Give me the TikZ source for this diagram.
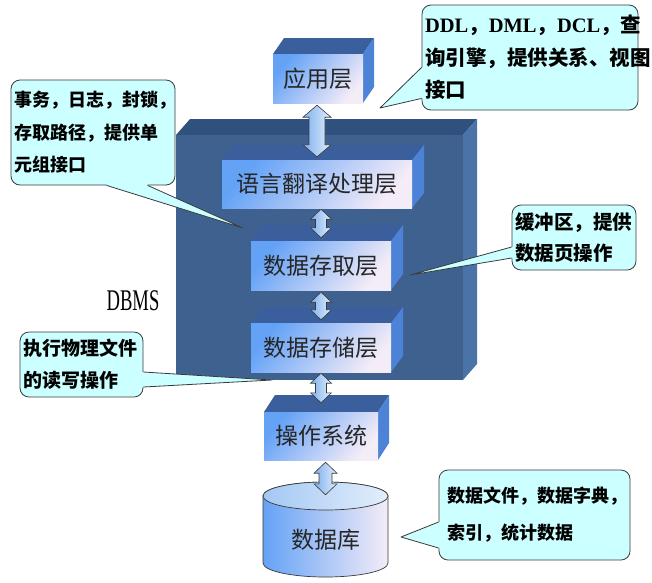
\documentclass[tikz,border=0pt]{standalone}
\usepackage{fontspec}
\usepackage{graphicx}
\setmainfont{Noto Sans CJK SC}
\newfontfamily\latf{Liberation Serif}
\usetikzlibrary{calc}
\definecolor{cfill}{HTML}{CCFFFF}
\definecolor{bigfront}{HTML}{3F6190}
\definecolor{bigtop}{HTML}{30507E}
\definecolor{bigside}{HTML}{4A73A8}
\definecolor{fA}{HTML}{64A2F6}
\definecolor{fB}{HTML}{F4ECF7}
\definecolor{smtop}{HTML}{3B5F9C}
\definecolor{smside}{HTML}{4C83D6}
\definecolor{arA}{HTML}{7DB0EE}
\definecolor{arB}{HTML}{E2EEFB}
\definecolor{ol}{HTML}{3A3A3A}
\tikzset{
  frontface/.style={shade, top color=fA, bottom color=fB, shading angle=50, inner sep=0pt,
    font=\fontsize{23}{23}\selectfont, text=black!85},
  fatarr/.style={draw=ol, line width=0.6pt, left color=arA, right color=arB},
  callout/.style={draw=ol, line width=0.8pt, fill=cfill, rounded corners=9pt, align=left,
    inner xsep=3pt, inner ysep=0pt, text=black},
  cline/.style={draw=ol, line width=0.8pt, line join=round},
}
\newcommand\layerbox[8]{%
  \fill[smtop] (#2,#3) -- (#2+#6,#3-#7) -- (#4+#6,#3-#7) -- (#4,#3) -- cycle;
  \fill[smside] (#4,#3) -- (#4+#6,#3-#7) -- (#4+#6,#5-#7) -- (#4,#5) -- cycle;
  \node[frontface, minimum width={#4-#2}, minimum height={#5-#3}] (#1) at ({(#2+#4)/2},{(#3+#5)/2}) {#8};
}
% #1 from, #2 to, #3 head half width, #4 shaft half width, #5 head length
\newcommand\fatarrow[5]{%
  \path[fatarr] let \p1=(#1), \p2=(#2) in
    (\x2,\y1) -- (\x2+#3pt,\y1-#5pt) -- (\x2+#4pt,\y1-#5pt) -- (\x2+#4pt,\y2+#5pt)
    -- (\x2+#3pt,\y2+#5pt) -- (\x2,\y2) -- (\x2-#3pt,\y2+#5pt) -- (\x2-#4pt,\y2+#5pt)
    -- (\x2-#4pt,\y1-#5pt) -- (\x2-#3pt,\y1-#5pt) -- cycle;
}
\begin{document}
\begin{tikzpicture}[x=1pt, y=-1pt]
\useasboundingbox (0,0) rectangle (652,582);
% DBMS big box
\fill[bigtop] (176,135) -- (190,119) -- (477,119) -- (463,135) -- cycle;
\fill[bigside] (463,135) -- (477,119) -- (477,364) -- (463,380) -- cycle;
\fill[bigfront] (176,135) rectangle (463,380);
\node[font=\latf\fontsize{30}{30}\selectfont] (dbms) at (133,301) {\scalebox{0.62}[1]{DBMS}};
% layers
\layerbox{app}{273}{54}{363}{103}{11}{16}{应用层}
\layerbox{lang}{222}{160}{412}{208}{12}{15}{语言翻译处理层}
\layerbox{acc}{251}{241}{391}{290}{12}{16}{数据存取层}
\layerbox{sto}{251}{323}{391}{372}{12}{16}{数据存储层}
\layerbox{os}{264}{412}{378}{460}{11}{17}{操作系统}
% database cylinder
\path[shade, left color=fA, right color=fB, draw=ol, line width=0.7pt]
  (263,496) -- (263,563) arc[start angle=180, end angle=360, x radius=62.5pt, y radius=14pt]
  -- (388,496) arc[start angle=0, end angle=180, x radius=62.5pt, y radius=14pt] -- cycle;
\path[left color=arA!70, right color=arB, draw=ol, line width=0.7pt] (325.5,496) ellipse [x radius=62.5pt, y radius=14pt];
\node[font=\fontsize{23}{23}\selectfont, text=black!85, minimum width=125pt, minimum height=46pt, inner sep=0pt] (db) at (325.5,540) {数据库};
% arrows
\fatarrow{$(app.south)+(0,2)$}{$(lang.north)+(0,-3)$}{14}{8}{12}
\fatarrow{$(lang.south)+(0,1)$}{$(acc.north)+(0,-3)$}{10.5}{5.5}{10}
\fatarrow{$(acc.south)+(0,2)$}{$(sto.north)+(0,-3)$}{10.5}{5.5}{10}
\fatarrow{$(sto.south)+(0,1)$}{$(os.north)+(0,-9)$}{10.5}{5.5}{10}
\fatarrow{$(os.south)+(0,2)$}{$(db.north)+(0,-22)$}{11.5}{6.5}{11}
% callouts
\node[callout, font=\bfseries\fontsize{18}{32.5}\selectfont, text width=158pt, minimum width=164pt, minimum height=105pt] (c1) at (93,132.5) {事务，日志，封锁，\\存取路径，提供单\\元组接口};
\coordinate (t1) at (243,228);
\fill[cfill] ($(c1.south west)+(96,0)$) -- (t1) -- ($(c1.south west)+(137,0)$) -- ($(c1.south west)+(137,-2)$) -- ($(c1.south west)+(96,-2)$) -- cycle;
\draw[cline] ($(c1.south west)+(96,0)$) -- (t1) -- ($(c1.south west)+(137,0)$);

\node[callout, font=\bfseries\fontsize{20.5}{32.5}\selectfont, text width=210pt, minimum width=216pt, minimum height=105pt] (c2) at (530,57.5) {{\latf DDL}，{\latf DML}，{\latf DCL}，查\\询引擎，提供关系、视图\\接口};
\coordinate (t2) at (380,108);
\fill[cfill] ($(c2.south west)+(0,-43)$) -- (t2) -- ($(c2.south west)+(0,-12)$) -- ($(c2.south west)+(2,-12)$) -- ($(c2.south west)+(2,-43)$) -- cycle;
\draw[cline] ($(c2.south west)+(0,-43)$) -- (t2) -- ($(c2.south west)+(0,-12)$);

\node[callout, font=\bfseries\fontsize{19.5}{31}\selectfont, text width=118pt, minimum width=124pt, minimum height=65pt] (c3) at (574,237.5) {缓冲区，提供\\数据页操作};
\coordinate (t3) at (410,275);
\fill[cfill] ($(c3.west)+(0,9.5)$) -- (t3) -- ($(c3.west)+(0,20.5)$) -- ($(c3.west)+(2,20.5)$) -- ($(c3.west)+(2,9.5)$) -- cycle;
\draw[cline] ($(c3.west)+(0,9.5)$) -- (t3) -- ($(c3.west)+(0,20.5)$);

\node[callout, font=\bfseries\fontsize{19}{32}\selectfont, text width=117pt, minimum width=123pt, minimum height=65pt] (c4) at (81.5,364.5) {执行物理文件\\的读写操作};
\coordinate (t4) at (272,380);
\fill[cfill] ($(c4.east)+(0,7.5)$) -- (t4) -- ($(c4.east)+(0,22.5)$) -- ($(c4.east)+(-2,22.5)$) -- ($(c4.east)+(-2,7.5)$) -- cycle;
\draw[cline] ($(c4.east)+(0,7.5)$) -- (t4) -- ($(c4.east)+(0,22.5)$);

\node[callout, font=\bfseries\fontsize{18}{37}\selectfont, text width=175pt, minimum width=191pt, minimum height=90pt, inner xsep=8pt] (c5) at (534.5,515) {数据文件，数据字典，\\索引，统计数据};
\coordinate (t5) at (401,537);
\fill[cfill] ($(c5.west)+(0,7)$) -- (t5) -- ($(c5.west)+(0,33)$) -- ($(c5.west)+(2,33)$) -- ($(c5.west)+(2,7)$) -- cycle;
\draw[cline] ($(c5.west)+(0,7)$) -- (t5) -- ($(c5.west)+(0,33)$);
\end{tikzpicture}
\end{document}
